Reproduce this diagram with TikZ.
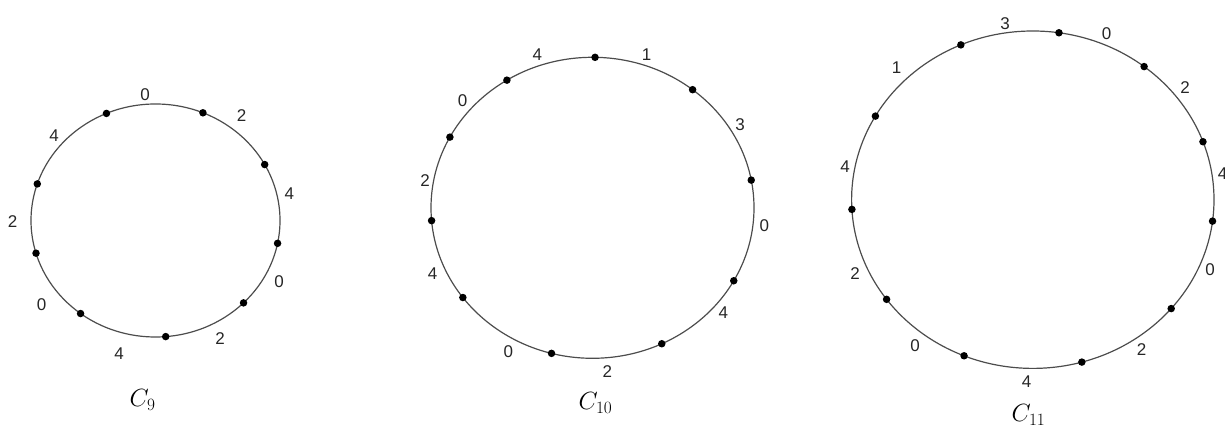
\documentclass[tikz,border=0pt]{standalone}
\usepackage{fontspec}
\newfontfamily\lbl{Liberation Sans}
\begin{document}
\begin{tikzpicture}[x=1pt,y=1pt,
  ring/.style={draw=black!70, line width=1.2pt},
  vtx/.style={circle, fill=black, inner sep=0pt, minimum size=7.5pt},
  lab/.style={font=\lbl\fontsize{17}{20}\selectfont, text=black!85, inner sep=0pt},
  cname/.style={font=\fontsize{23}{27}\selectfont, anchor=base, inner sep=0pt}]
\useasboundingbox (0,0) rectangle (1225,427);

% ---------- C9 ----------
\begin{scope}[shift={(155.5,206.5)}]
  \draw[ring] (0,0) ellipse [x radius=124.5, y radius=116.5];
  \foreach \a [count=\i] in {113.2,67.6,28.7,-11.3,-45,-85.3,-127,196.3,161.7}
    \node[vtx] (a\i) at (\a:124.5 and 116.5) {};
\end{scope}
\node[lab] (la1) at (145,332) {0};
\node[lab] (la2) at (241.7,311) {2};
\node[lab] (la3) at (289.3,233.7) {4};
\node[lab] (la4) at (279,145.3) {0};
\node[lab] (la5) at (220,88.7) {2};
\node[lab] (la6) at (119,73.7) {4};
\node[lab] (la7) at (41.7,122) {0};
\node[lab] (la8) at (12.7,205.3) {2};
\node[lab] (la9) at (54,291) {4};
\node[cname] (n9) at (142.5,20) {$C_9$};

% ---------- C10 ----------
\begin{scope}[shift={(592.5,219.2)}]
  \draw[ring] (0,0) ellipse [x radius=161.5, y radius=150.5];
  \foreach \a [count=\i] in {89.1,51.7,10.6,-29.0,-64.6,-104.7,-143.4,184.9,152.0,122.0}
    \node[vtx] (b\i) at (\a:161.5 and 150.5) {};
\end{scope}
\node[lab] (lb1) at (537.3,372) {4};
\node[lab] (lb2) at (646.7,372) {1};
\node[lab] (lb3) at (740,302) {3};
\node[lab] (lb4) at (764.3,201) {0};
\node[lab] (lb5) at (723.3,114.3) {4};
\node[lab] (lb6) at (607.3,55.3) {2};
\node[lab] (lb7) at (508.3,75.3) {0};
\node[lab] (lb8) at (432.7,153) {4};
\node[lab] (lb9) at (425,246) {2};
\node[lab] (lb10) at (462.7,326.3) {0};
\node[cname] (n10) at (595.5,17) {$C_{10}$};

% ---------- C11 ----------
\begin{scope}[shift={(1032.8,227.3)}]
  \draw[ring] (0,0) ellipse [x radius=181.2, y radius=168.7];
  \foreach \a [count=\i] in {113.4,81.7,52.1,20.1,-7.3,-40.2,-74.3,-112.3,-143.8,183.3,150.3}
    \node[vtx] (c\i) at (\a:181.2 and 168.7) {};
\end{scope}
\node[lab] (lc1) at (1005,403.7) {3};
\node[lab] (lc2) at (1106.7,393.7) {0};
\node[lab] (lc3) at (1185,339.7) {2};
\node[lab] (lc4) at (1222.5,253.7) {4};
\node[lab] (lc5) at (1210,157.7) {0};
\node[lab] (lc6) at (1141.7,77) {2};
\node[lab] (lc7) at (1026.7,45.3) {4};
\node[lab] (lc8) at (915,81) {0};
\node[lab] (lc9) at (855,153.7) {2};
\node[lab] (lc10) at (845,260.3) {4};
\node[lab] (lc11) at (896.7,359.3) {1};
\node[cname] (n11) at (1028.5,5) {$C_{11}$};
\end{tikzpicture}
\end{document}
